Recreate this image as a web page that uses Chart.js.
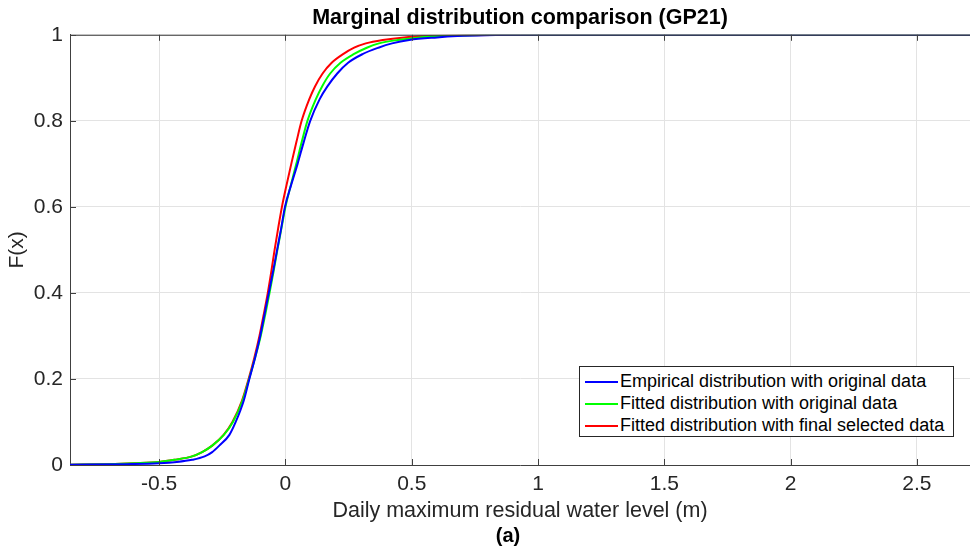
<!DOCTYPE html>
<html>
<head>
<meta charset="utf-8">
<script src="https://cdn.jsdelivr.net/npm/chart.js@4.4.1/dist/chart.umd.min.js"></script>
<style>
  body { margin: 0; background: #fff; font-family: "Liberation Sans", Arial, sans-serif; }
  #wrap { position: relative; width: 970px; height: 548px; }
  #legend {
    position: absolute; left: 579px; top: 366px; width: 375px; height: 71px;
    border: 1px solid #262626; background: #fff; box-sizing: border-box;
    padding-top: 3px; font-size: 18px; color: #000;
  }
  .row { height: 22px; line-height: 22px; white-space: nowrap; }
  .swatch { display: inline-block; width: 33px; height: 0; border-top: 2px solid; vertical-align: middle; margin: 0 2px 0 5px; }
  #tag { position: absolute; left: 470px; width: 76px; top: 523px; line-height: 24px; text-align: center;
         font-size: 20px; font-weight: bold; }
</style>
</head>
<body>
<div id="wrap">
  <canvas id="cdf"></canvas>
  <div id="legend">
    <div class="row"><span class="swatch" style="border-color:#0000ff"></span>Empirical distribution with original data</div>
    <div class="row"><span class="swatch" style="border-color:#00ff00"></span>Fitted distribution with original data</div>
    <div class="row"><span class="swatch" style="border-color:#ff0000"></span>Fitted distribution with final selected data</div>
  </div>
  <div id="tag">(a)</div>
</div>
<script>
const fLevels = [0.0006, 0.002, 0.004, 0.007, 0.012, 0.02, 0.03, 0.045, 0.07, 0.1,
                 0.15, 0.2, 0.25, 0.3, 0.35, 0.4, 0.45, 0.5, 0.55, 0.6,
                 0.65, 0.7, 0.75, 0.8, 0.85, 0.88, 0.91, 0.935, 0.955, 0.97,
                 0.98, 0.988, 0.994, 0.997, 0.999, 0.9999, 1];

const empiricalX = [-0.853, -0.63, -0.50, -0.43, -0.37, -0.32, -0.29, -0.262, -0.222, -0.197,
                    -0.165, -0.143, -0.12, -0.1, -0.083, -0.066, -0.049, -0.033, -0.017, -0.002,
                    0.022, 0.048, 0.072, 0.098, 0.135, 0.166, 0.205, 0.248, 0.305, 0.368,
                    0.422, 0.49, 0.6, 0.68, 0.79, 1.0, 2.71];

const fitOrigX   = [-0.853, -0.70, -0.60, -0.50, -0.44, -0.37, -0.33, -0.29, -0.244, -0.208,
                    -0.17, -0.144, -0.12, -0.098, -0.08, -0.063, -0.047, -0.032, -0.016, 0.0,
                    0.021, 0.043, 0.064, 0.087, 0.12, 0.145, 0.177, 0.218, 0.27, 0.322,
                    0.37, 0.445, 0.53, 0.61, 0.73, 0.95, 2.71];

const fitFinalX  = [-0.853, -0.70, -0.60, -0.50, -0.44, -0.37, -0.33, -0.29, -0.245, -0.21,
                    -0.172, -0.146, -0.123, -0.103, -0.086, -0.07, -0.056, -0.043, -0.029, -0.014,
                    0.004, 0.023, 0.043, 0.064, 0.094, 0.117, 0.147, 0.183, 0.228, 0.272,
                    0.318, 0.385, 0.47, 0.56, 0.7, 0.95, 2.71];

const xTicks = [-0.5, 0, 0.5, 1, 1.5, 2, 2.5];
const yTicks = [0, 0.2, 0.4, 0.6, 0.8, 1];

const toPoints = xs => xs.map((x, i) => ({ x, y: fLevels[i] }));

function curve(label, xs, color) {
  return {
    label, data: toPoints(xs), borderColor: color, backgroundColor: color,
    borderWidth: 2, pointRadius: 0, showLine: true, cubicInterpolationMode: "monotone"
  };
}

const axisColor = "#404040";
const txtColor  = "#262626";
const baseFont  = "'Liberation Sans', Arial, sans-serif";
const fmt = v => String(+(+v).toFixed(2));

// box top edge + inward tick marks, MATLAB style
const frame = {
  id: "frame",
  afterDraw(chart) {
    const { ctx, chartArea: a, scales: { x, y } } = chart;
    ctx.save();
    ctx.strokeStyle = axisColor;
    ctx.lineWidth = 1;
    ctx.beginPath();
    ctx.moveTo(a.left, a.top + 0.5); ctx.lineTo(a.right, a.top + 0.5);
    xTicks.forEach(v => {
      const px = Math.round(x.getPixelForValue(v)) + 0.5;
      ctx.moveTo(px, a.bottom); ctx.lineTo(px, a.bottom - 6);
      ctx.moveTo(px, a.top);    ctx.lineTo(px, a.top + 6);
    });
    yTicks.forEach(v => {
      const py = Math.round(y.getPixelForValue(v)) + 0.5;
      ctx.moveTo(a.left, py); ctx.lineTo(a.left + 6, py);
    });
    ctx.stroke();
    ctx.restore();
  }
};

new Chart(document.getElementById("cdf"), {
  type: "scatter",
  data: {
    datasets: [
      curve("Empirical distribution with original data", empiricalX, "#0000ff"),
      curve("Fitted distribution with original data", fitOrigX, "#00ff00"),
      curve("Fitted distribution with final selected data", fitFinalX, "#ff0000")
    ]
  },
  options: {
    responsive: true,
    maintainAspectRatio: false,
    animation: false,
    layout: { padding: 0 },
    scales: {
      x: {
        type: "linear", min: -0.853, max: 2.71,
        afterFit: s => { s.height = 83; },
        afterBuildTicks: s => { s.ticks = xTicks.map(v => ({ value: v })); },
        ticks: { padding: 7, color: txtColor, font: { family: baseFont, size: 21 }, callback: fmt },
        grid: { color: "#e3e3e3", drawTicks: false },
        border: { color: axisColor },
        title: { display: true, text: "Daily maximum residual water level (m)", color: txtColor,
                 font: { family: baseFont, size: 21.5 }, padding: { top: 0, bottom: 24 } }
      },
      y: {
        min: 0, max: 1,
        afterFit: s => { s.width = 70; },
        afterBuildTicks: s => { s.ticks = yTicks.map(v => ({ value: v })); },
        ticks: { padding: 7, color: txtColor, font: { family: baseFont, size: 21 }, callback: fmt },
        grid: { color: "#e3e3e3", drawTicks: false },
        border: { color: axisColor },
        title: { display: true, text: "F(x)", color: txtColor,
                 font: { family: baseFont, size: 21 }, padding: { top: 5, bottom: 0 } }
      }
    },
    plugins: {
      legend: { display: false },
      tooltip: { enabled: false },
      title: {
        display: true, fullSize: false,
        text: "Marginal distribution comparison (GP21)",
        color: "#000", font: { family: baseFont, size: 21.5, weight: "bold" },
        padding: { top: 5, bottom: 4 }
      }
    }
  },
  plugins: [frame]
});
</script>
</body>
</html>
